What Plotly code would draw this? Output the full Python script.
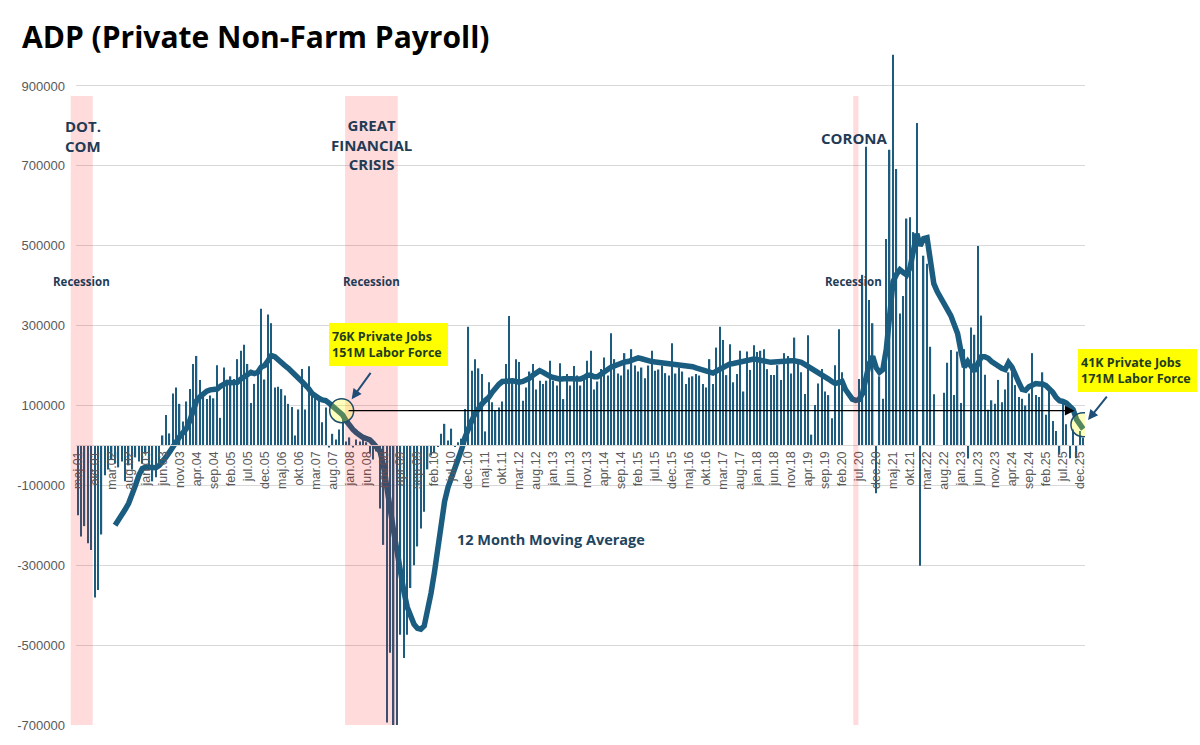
import plotly.graph_objects as go

# ---------------- data ----------------
month_names = ["jan", "feb", "mar", "apr", "maj", "jun", "jul", "aug", "sep", "okt", "nov", "dec"]
categories = []
yr, mo = 2001, 4
for _ in range(297):
    categories.append(f"{month_names[mo]}.{yr % 100:02d}")
    mo += 1
    if mo == 12:
        mo, yr = 0, yr + 1
tick_labels = categories[::5]

# monthly change in private payrolls (thousands), May 2001 .. Jan 2026
payroll_k = [
    -175, -228, -202, -245, -262, -381, -362, -223,                       # 2001 May-Dec
    -75, -60, -35, -45, -55, -40, -90, -50, -60, -30, -40, -45,          # 2002
    -20, -60, -90, -80, -45, 25, 76, 30, 130, 145, 104, 60,              # 2003
    110, 141, 204, 224, 164, 125, 116, 125, 118, 201, 69, 195,           # 2004
    162, 173, 166, 216, 237, 252, 204, 106, 154, 183, 342, 165,          # 2005
    328, 306, 145, 147, 141, 125, 104, 96, 25, 90, 191, 90,              # 2006
    198, 125, 120, 112, 58, 95, -5, 29, 15, 40, 70, 10,                  # 2007
    20, -5, 15, 10, 25, 8, -20, -35, -15, -158, -249, -694,              # 2008
    -519, -700, -700, -474, -532, -474, -357, -300, -253, -208, -166, -60,  # 2009
    -25, -17, -4, 29, 54, 12, 42, -4, 8, 17, 91, 297,                    # 2010
    187, 216, 193, 179, 35, 158, 108, 87, 95, 110, 204, 324,             # 2011
    162, 216, 209, 112, 145, 185, 204, 140, 162, 154, 162, 212,          # 2012
    162, 150, 206, 116, 179, 150, 199, 175, 150, 170, 212, 237,          # 2013
    140, 160, 191, 220, 175, 281, 216, 180, 175, 231, 190, 241,          # 2014
    200, 185, 195, 168, 200, 237, 187, 190, 200, 181, 175, 256,          # 2015
    180, 195, 185, 154, 170, 173, 179, 175, 154, 145, 216, 154,          # 2016
    245, 297, 264, 176, 253, 158, 179, 237, 135, 235, 189, 251,          # 2017
    234, 237, 241, 191, 176, 176, 201, 164, 231, 224, 180, 270,          # 2018
    204, 183, 129, 276, 27, 101, 155, 191, 135, 126, 68, 201,            # 2019
    291, 183, None, None, None, None, 166, 427, 748, 364, 306, -120,     # 2020
    173, 117, 517, 740, 978, 692, 330, 374, 568, 571, 534, 807,          # 2021
    -301, 475, 455, 247, 128, None, None, 132, 207, 239, 126, 235,       # 2022
    106, 241, -33, 295, 277, 499, 325, 177, 89, 113, 104, 164,           # 2023
    108, 140, 183, 190, 151, 121, 117, 100, 130, 231, 126, 121,          # 2024
    183, 77, 139, 61, 36, -23, 104, 53, -32, 40, -32, 36,                # 2025
    19,                                                                  # 2026 Jan
]

# 12 month moving average as drawn (thousands)
moving_avg_k = [
    None, None, None, None, None, None, None, None,
    None, None, None, -200, -188, -175, -160, -145, -125, -100, -75, -58,
    -54, -54, -55, -56, -50, -41, -29, -17, -2, 12, 22, 32,
    42, 62, 92, 112, 122, 130, 136, 139, 140, 141, 148, 155,
    158, 157, 156, 158, 166, 173, 179, 183, 180, 183, 196, 200,
    212, 225, 222, 216, 206, 200, 193, 186, 178, 168, 160, 152,
    142, 130, 123, 118, 114, 112, 106, 99, 92, 85, 76, 62,
    50, 40, 32, 24, 20, 17, 14, 5, -3, -15, -50, -110,
    -160, -215, -265, -320, -365, -405, -432, -448, -458, -460, -452, -415,
    -370, -318, -260, -195, -140, -105, -82, -62, -40, -10, 20, 45,
    62, 80, 94, 104, 113, 120, 133, 145, 153, 160, 161, 162,
    162, 160, 158, 160, 164, 168, 176, 183, 187, 183, 177, 173,
    170, 167, 166, 167, 168, 168, 167, 166, 166, 170, 175, 176,
    172, 172, 177, 182, 190, 196, 200, 204, 207, 209, 210, 212,
    216, 219, 217, 214, 212, 210, 209, 208, 206, 205, 205, 204,
    204, 203, 202, 201, 199, 197, 194, 191, 189, 186, 183, 181,
    186, 191, 196, 200, 204, 205, 207, 208, 210, 212, 214, 216,
    215, 213, 212, 210, 208, 209, 210, 212, 212, 212, 212, 212,
    211, 208, 203, 198, 193, 188, 184, 178, 172, 166, 160, 155,
    158, 160, 140, 125, 116, 113, 115, 130, 165, 205, 223, 195,
    183, 190, 240, 330, 410, 428, 440, 433, 427, 445, 490, 530,
    500, 518, 520, 450, 405, 385, 372, 355, 340, 325, 300, 280,
    235, 196, 210, 195, 186, 205, 222, 222, 218, 210, 203, 198,
    193, 190, 207, 196, 180, 158, 140, 138, 147, 153, 155, 154,
    154, 150, 142, 133, 120, 112, 110, 106, 98, 90, 65, 52,
    41,
]

payroll = [None if v is None else v * 1000 for v in payroll_k]
moving_avg = [None if v is None else v * 1000 for v in moving_avg_k]

# recession shading (category index span)
recessions = [(-2.06, 4.42), (78.7, 94.2), (228.3, 229.8)]
y_ticks = list(range(-700000, 1000000, 200000))
Y_MIN, Y_MAX = -700000, 1000000
N = len(categories)

# ---------------- layout helpers ----------------
L, R, T, B = 76, 115, 46, 17
W, H = 1200, 745
PW, PH = W - L - R, H - T - B


def xp(px):
    return (px - L) / PW


def yp(py):
    return (H - B - py) / PH


def idx_to_paper(i):
    return (i + 0.5) / N


def val_to_paper(v):
    return (v - Y_MIN) / (Y_MAX - Y_MIN)


TEAL = "#1D5C7E"
LABEL = "#1F3B56"
FONT = "Open Sans"

fig = go.Figure()
fig.add_trace(go.Bar(x=categories, y=payroll, marker=dict(color=TEAL, line=dict(width=0)),
                     width=0.4, hoverinfo="x+y"))
fig.add_trace(go.Scatter(x=categories, y=moving_avg, mode="lines",
                         line=dict(color="#1A5D80", width=5.5), connectgaps=False))

shapes = []
for a, b in recessions:
    shapes.append(dict(type="rect", xref="paper", yref="paper",
                       x0=idx_to_paper(a), x1=idx_to_paper(b),
                       y0=0, y1=val_to_paper(875000),
                       fillcolor="rgba(255,0,0,0.14)", line=dict(width=0), layer="above"))
for cx, cy in [(77.7, 87000), (295.9, 52000)]:
    shapes.append(dict(type="circle", xref="x", yref="y", xsizemode="pixel", ysizemode="pixel",
                       xanchor=cx, yanchor=cy, x0=-12, x1=12, y0=-12, y1=12,
                       fillcolor="rgba(255,255,0,0.26)", line=dict(color="#1F4E6B", width=1.5),
                       layer="above"))

ann = []
# black reference line with arrow
ann.append(dict(x=293.4, y=87000, ax=79.3, ay=87000, xref="x", yref="y", axref="x", ayref="y",
                text="", showarrow=True, arrowhead=2, arrowsize=1.6, arrowwidth=1.2,
                arrowcolor="black"))
# event labels
ann.append(dict(x=xp(63), y=yp(136), xref="paper", yref="paper", xanchor="left", yanchor="middle",
                align="left", text="<b>DOT.<br>COM</b>", showarrow=False,
                font=dict(family=FONT, size=15, color=LABEL)))
ann.append(dict(x=xp(371.7), y=yp(145), xref="paper", yref="paper", xanchor="center",
                yanchor="middle", align="center", text="<b>GREAT<br>FINANCIAL<br>CRISIS</b>",
                showarrow=False, font=dict(family=FONT, size=15, color=LABEL)))
ann.append(dict(x=xp(819), y=yp(138.5), xref="paper", yref="paper", xanchor="left",
                yanchor="middle", text="<b>CORONA</b>", showarrow=False,
                font=dict(family=FONT, size=15, color=LABEL)))
for cxp in (81, 371.3, 853.7):
    ann.append(dict(x=xp(cxp), y=yp(283), xref="paper", yref="paper", xanchor="center",
                    yanchor="middle", text="<b>Recession</b>", showarrow=False,
                    font=dict(family=FONT, size=11.5, color=LABEL)))
ann.append(dict(x=xp(455), y=yp(542), xref="paper", yref="paper", xanchor="left",
                yanchor="middle", text="<b>12 Month Moving Average</b>", showarrow=False,
                font=dict(family=FONT, size=14.5, color="#1F4560")))
# yellow boxes
for (bx, by, txt) in [(388.5, 345.5, "<b>76K Private Jobs<br>151M Labor Force</b>"),
                      (1137.5, 371.5, "<b>41K Private Jobs<br>171M Labor Force</b>")]:
    ann.append(dict(x=xp(bx), y=yp(by), xref="paper", yref="paper", xanchor="center",
                    yanchor="middle", align="left", text=txt, showarrow=False,
                    bgcolor="#FFFF00", borderpad=3, borderwidth=0, width=113, height=37,
                    font=dict(family=FONT, size=12.5, color="#1E3D1E")))
# arrows from boxes to circles
for (hx, hy, tx, ty) in [(351.7, 400.7, 371.7, 373), (1088, 421.7, 1108, 396.7)]:
    ann.append(dict(x=xp(hx), y=yp(hy), xref="paper", yref="paper", ax=tx - hx, ay=ty - hy,
                    text="", showarrow=True, arrowhead=2, arrowsize=1, arrowwidth=2,
                    arrowcolor="#1F4E79"))

fig.update_layout(
    width=W, height=H, margin=dict(l=L, r=R, t=T, b=B),
    paper_bgcolor="white", plot_bgcolor="white", showlegend=False,
    title=dict(text="<b>ADP (Private Non-Farm Payroll)</b>", x=22 / W, xanchor="left",
               y=1 - 37 / H, yanchor="middle", xref="container", yref="container",
               font=dict(family=FONT, size=30, color="black")),
    shapes=shapes, annotations=ann,
)
fig.update_xaxes(type="category", categoryorder="array", categoryarray=categories,
                 range=[-0.5, N - 0.5], tickmode="array", tickvals=tick_labels,
                 ticktext=tick_labels, tickangle=-90, showgrid=False, zeroline=False,
                 showline=True, linecolor="#D9D9D9", linewidth=1, ticks="",
                 anchor="free", position=val_to_paper(0),
                 tickfont=dict(family="Liberation Sans", size=12.5, color="#595959"))
fig.update_yaxes(range=[Y_MIN, Y_MAX], tickmode="array", tickvals=y_ticks,
                 ticktext=[str(v) for v in y_ticks], showgrid=True, gridcolor="#D9D9D9",
                 gridwidth=1, zeroline=False, showline=False, ticks="", ticklabelstandoff=10,
                 tickfont=dict(family="Liberation Sans", size=13, color="#595959"))

fig.write_html("out.html")
